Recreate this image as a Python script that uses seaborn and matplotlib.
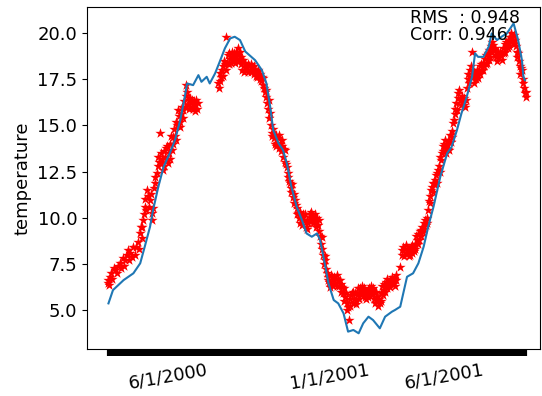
import numpy as np
import pandas as pd
import matplotlib
matplotlib.use("Agg")
import matplotlib.pyplot as plt
import seaborn as sns

# ---------------- data ----------------
start_date = "2000-03-13"

model_day = [1, 7, 21, 34, 43, 49, 56, 60, 67, 74, 82, 89, 96, 102, 105, 113, 120, 124,
             131, 135, 142, 149, 155, 162, 168, 175, 182, 195, 204, 210, 215, 219, 226,
             232, 237, 243, 250, 257, 263, 270, 277, 281, 288, 292, 299, 305, 312, 318,
             325, 332, 338, 345, 351, 360, 367, 376, 380, 387, 396, 404, 411, 418, 424,
             431, 440, 449, 455, 462, 468, 475, 482, 486, 490, 497, 504, 508, 515, 521,
             528, 537, 543, 548, 550, 552]
model_temp = [5.36, 6.08, 6.62, 6.99, 7.53, 8.43, 9.51, 10.41, 11.68, 12.76, 13.48, 14.2,
              15.29, 16.55, 17.27, 17.18, 17.72, 17.36, 17.63, 17.27, 17.81, 18.53, 19.17,
              19.71, 19.8, 19.62, 19.0, 18.53, 17.99, 17.27, 16.0, 14.74, 14.03, 13.66,
              12.94, 11.68, 10.59, 9.87, 9.15, 8.97, 9.15, 8.79, 7.34, 6.45, 5.54, 5.36,
              4.82, 3.83, 3.92, 3.74, 4.28, 4.64, 4.46, 4.01, 4.64, 4.91, 5.0, 5.18, 6.80,
              6.99, 7.53, 8.43, 9.51, 10.59, 12.22, 13.48, 13.84, 14.74, 15.65, 16.55,
              17.63, 18.9, 18.71, 18.71, 19.26, 19.98, 19.62, 19.8, 19.98, 20.52, 19.62,
              18.53, 17.63, 17.45]

# observations: main trace
obs_day = [0, 3, 10, 16, 23, 27, 32, 38, 43, 47, 49, 52, 56, 58, 63, 65, 67, 69, 71, 76,
           80, 85, 87, 91, 93, 96, 100, 104, 107, 111, 116, 119, 146, 149, 155, 157, 162,
           168, 175, 179, 182, 184, 191, 199, 206, 210, 215, 217, 224, 230, 235, 237, 241,
           248, 252, 259, 265, 272, 279, 283, 288, 292, 294, 299, 305, 310, 314, 318, 319,
           323, 329, 336, 343, 349, 356, 360, 365, 371, 374, 378, 382, 387, 389, 396, 404,
           409, 415, 422, 426, 429, 433, 437, 440, 446, 451, 455, 457, 462, 464, 468, 473,
           479, 482, 486, 490, 497, 504, 510, 517, 521, 528, 535, 539, 543, 548, 550, 552,
           554]
obs_temp = [6.45, 6.80, 7.17, 7.53, 7.71, 8.25, 7.89, 8.43, 9.15, 9.87, 10.59, 11.5, 10.96,
            10.24, 11.86, 12.4, 13.3, 14.57, 12.94, 13.3, 12.94, 13.66, 14.38, 14.2, 15.83,
            14.92, 15.83, 17.18, 16.37, 16.0, 16.1, 16.19, 17.27, 17.81, 18.35, 19.8, 18.62,
            18.71, 18.98, 18.53, 18.17, 17.99, 18.17, 17.99, 17.54, 16.55, 15.65, 14.57,
            14.03, 14.2, 13.66, 12.76, 11.86, 10.96, 10.24, 10.05, 9.69, 10.05, 9.87, 8.97,
            7.71, 6.80, 6.26, 6.62, 6.62, 6.26, 5.72, 5.18, 4.46, 5.9, 5.54, 6.08, 5.9,
            6.08, 5.72, 5.36, 6.08, 6.45, 6.26, 6.62, 6.62, 7.34, 8.25, 8.07, 8.25, 8.79,
            9.33, 9.69, 10.78, 11.68, 12.04, 12.58, 13.3, 14.2, 13.66, 14.38, 15.11, 15.83,
            16.73, 16.37, 16.0, 17.99, 18.98, 17.81, 17.54, 17.99, 18.53, 19.35, 18.9,
            18.53, 19.26, 19.8, 19.62, 18.9, 17.99, 17.27, 16.73, 16.55]

# observations: the rest of the star cloud (day, temperature)
obs_cloud = [
    (1, 6.6), (2, 6.35), (5, 7.0), (6, 6.7), (8, 7.3), (12, 7.0), (13, 7.4), (18, 7.3),
    (20, 7.8), (21, 7.4), (25, 8.0), (28, 7.7), (30, 8.1), (34, 8.4), (36, 8.0), (40, 8.7),
    (41, 8.3), (44, 9.5), (45, 8.9), (46, 9.5), (48, 10.2), (50, 11.0), (51, 10.4),
    (53, 11.2), (54, 10.6), (57, 11.3), (59, 9.9), (60, 10.5), (61, 11.6), (62, 12.2),
    (66, 12.8), (68, 13.0), (70, 13.5), (72, 13.2), (73, 12.6), (74, 13.6), (75, 12.8),
    (77, 13.8), (78, 13.1), (79, 13.9), (81, 13.5), (82, 14.0), (83, 13.2), (84, 14.4),
    (86, 14.0), (88, 14.8), (89, 14.4), (90, 15.2), (92, 15.0), (94, 15.5), (95, 15.2),
    (97, 15.6), (98, 16.0), (99, 15.4), (101, 16.3), (102, 16.0), (103, 16.6), (105, 16.8),
    (106, 16.1), (108, 15.9), (109, 16.5), (110, 16.2), (112, 16.4), (113, 15.9),
    (114, 16.3), (115, 15.8), (117, 16.4), (118, 15.9),
    (147, 17.0), (148, 17.4), (150, 17.6), (151, 18.0), (152, 17.7), (153, 18.2),
    (154, 18.5), (156, 18.0), (158, 18.4), (159, 18.8), (160, 18.3), (161, 18.9),
    (163, 18.4), (164, 18.7), (165, 19.0), (166, 18.5), (167, 18.9), (169, 18.4),
    (170, 19.0), (171, 18.6), (172, 19.2), (173, 18.8), (174, 18.5), (176, 18.7),
    (177, 18.3), (178, 18.0), (180, 17.9), (181, 18.4), (183, 18.0), (185, 18.3),
    (186, 17.9), (187, 18.2), (188, 18.0), (189, 18.3), (190, 17.9), (192, 18.0),
    (193, 18.2), (194, 17.8), (195, 18.0), (196, 17.7), (197, 17.9), (198, 17.6),
    (200, 17.7), (201, 17.5), (202, 17.8), (203, 17.4), (204, 17.6), (205, 17.2),
    (207, 17.0), (208, 16.8), (209, 16.9),
    (211, 16.2), (212, 15.9), (213, 16.4), (214, 15.4), (216, 15.0), (218, 14.4),
    (219, 14.8), (220, 14.3), (221, 14.0), (222, 14.5), (223, 13.9), (225, 14.3),
    (226, 13.8), (227, 14.5), (228, 14.0), (229, 13.6), (231, 13.9), (232, 13.3),
    (233, 13.7), (234, 13.0), (236, 12.9), (238, 12.4), (239, 12.2), (240, 12.0),
    (242, 11.6), (243, 11.4), (244, 11.8), (245, 11.1), (246, 11.3), (247, 10.8),
    (249, 10.7), (250, 10.5), (251, 10.2),
    (253, 10.0), (254, 10.3), (255, 9.7), (256, 10.1), (257, 9.6), (258, 10.2), (260, 9.8),
    (261, 10.2), (262, 9.5), (263, 9.9), (264, 9.4), (266, 9.9), (267, 10.2), (268, 9.8),
    (269, 10.3), (270, 10.0), (271, 9.7), (273, 9.9), (274, 10.2), (275, 9.8), (276, 9.5),
    (277, 10.0), (278, 9.6), (280, 9.3), (281, 9.0), (282, 8.6), (284, 8.3), (285, 8.0),
    (286, 7.5), (287, 7.9),
    (289, 7.2), (290, 7.0), (291, 6.6), (293, 6.5), (295, 6.9), (296, 6.4), (297, 6.8),
    (298, 6.3), (300, 6.8), (301, 6.4), (302, 6.7), (303, 6.3), (304, 6.9), (306, 6.3),
    (307, 6.6), (308, 6.0), (309, 6.4), (311, 5.9), (312, 6.2), (313, 5.5), (315, 5.9),
    (316, 5.4), (317, 5.0), (320, 5.6),
    (321, 5.2), (322, 5.8), (324, 5.4), (325, 6.0), (326, 5.6), (327, 5.9), (328, 5.3),
    (330, 5.8), (331, 6.2), (332, 5.6), (333, 5.9), (334, 6.2), (335, 5.8), (337, 6.3),
    (338, 5.9), (339, 6.2), (340, 5.7), (341, 6.0), (342, 5.6), (344, 6.1), (345, 5.7),
    (346, 6.2), (347, 5.9), (348, 6.3), (350, 5.8), (351, 6.2), (352, 5.6), (353, 5.9),
    (354, 5.4), (355, 6.0), (357, 5.5), (358, 5.2), (359, 5.6), (361, 5.5), (362, 5.9),
    (363, 6.3), (364, 5.8), (366, 6.4), (367, 6.0), (368, 6.5), (369, 6.2), (370, 6.7),
    (372, 6.3), (373, 6.6), (375, 6.5), (376, 6.8), (377, 6.4), (379, 6.7), (380, 6.3),
    (381, 6.9),
    (390, 8.0), (391, 8.4), (392, 7.9), (393, 8.3), (394, 8.1), (395, 8.5), (397, 8.2),
    (398, 7.9), (399, 8.3), (400, 8.0), (401, 8.4), (402, 8.1), (403, 8.5), (405, 8.2),
    (406, 8.6), (407, 8.3), (408, 9.0), (410, 8.6), (411, 9.1), (412, 8.8), (413, 9.3),
    (414, 9.0), (416, 9.5), (417, 9.2), (418, 9.7), (419, 9.4), (420, 9.9), (421, 9.6),
    (423, 10.0), (424, 10.4), (425, 10.9), (427, 11.2), (428, 11.5), (430, 11.9),
    (431, 11.4),
    (432, 11.8), (434, 12.3), (435, 11.9), (436, 12.4), (438, 12.8), (439, 12.5),
    (441, 13.1), (442, 13.5), (443, 13.9), (444, 13.6), (445, 14.0), (447, 13.9),
    (448, 13.5), (449, 14.0), (450, 13.7), (452, 14.2), (453, 14.5), (454, 14.1),
    (456, 14.7), (458, 15.3), (459, 15.6), (460, 15.9), (461, 16.2), (463, 16.5),
    (465, 16.9), (466, 16.4), (467, 16.1), (469, 16.6), (470, 16.2), (471, 16.5),
    (472, 16.1), (474, 16.4),
    (475, 17.0), (476, 17.5), (477, 17.8), (478, 17.3), (480, 17.6), (481, 18.2),
    (483, 17.6), (484, 17.3), (485, 17.9), (487, 17.5), (488, 18.0), (489, 17.7),
    (491, 17.9), (492, 18.2), (493, 17.8), (494, 18.3), (495, 18.0), (496, 18.4),
    (498, 18.2), (499, 18.6), (500, 18.3), (501, 18.8), (502, 18.4), (503, 18.9),
    (505, 19.1), (506, 18.7), (507, 19.3), (508, 19.0), (509, 19.5), (511, 19.1),
    (512, 18.8), (513, 19.2), (514, 18.7), (515, 18.5), (516, 19.0), (518, 18.7),
    (519, 19.0), (520, 18.8), (522, 18.9), (523, 19.2), (524, 18.9), (525, 19.4),
    (526, 19.0), (527, 19.5), (529, 19.2), (530, 19.6), (531, 19.3), (532, 19.8),
    (533, 19.5), (534, 20.0), (536, 19.6), (537, 19.9), (538, 19.4), (540, 19.3),
    (541, 19.0), (542, 18.7), (544, 18.5), (545, 18.2), (546, 17.8), (547, 18.1),
    (549, 17.5), (551, 17.0), (553, 16.8),
]

label_dates = ["2000-06-01", "2001-01-01", "2001-06-01"]
label_texts = ["6/1/2000", "1/1/2001", "6/1/2001"]
yticks = [5.0, 7.5, 10.0, 12.5, 15.0, 17.5, 20.0]
rms_value = 0.948
corr_value = 0.946

# ---------------- plot ----------------
t0 = pd.Timestamp(start_date)
all_obs_day = list(obs_day) + [d for d, _ in obs_cloud]
all_obs_temp = list(obs_temp) + [v for _, v in obs_cloud]
obs_df = pd.DataFrame({"date": t0 + pd.to_timedelta(all_obs_day, unit="D"),
                       "temp": all_obs_temp})
model_df = pd.DataFrame({"date": t0 + pd.to_timedelta(model_day, unit="D"),
                         "temp": model_temp})

fig = plt.figure(figsize=(5.42, 3.96), dpi=100)
ax = fig.add_axes([0.1605, 0.1187, 0.8358, 0.8636])

sns.scatterplot(data=obs_df, x="date", y="temp", marker="*", color="red", s=60,
                linewidth=0, ax=ax, zorder=2)
sns.lineplot(data=model_df, x="date", y="temp", color="#1f77b4", linewidth=1.5,
             ax=ax, zorder=3)

# one tick per day, only a few labelled
all_days = pd.date_range(t0, t0 + pd.Timedelta(days=max(all_obs_day)), freq="D")
lab_map = {pd.Timestamp(d): s for d, s in zip(label_dates, label_texts)}
ax.set_xticks(all_days)
ax.set_xticklabels([lab_map.get(d, "") for d in all_days], rotation=10, fontsize=13)
ax.tick_params(axis="x", length=5, width=1.5)

ax.set_yticks(yticks)
ax.set_yticklabels([f"{v:.1f}" for v in yticks], fontsize=13)
ax.set_ylim(2.89, 21.41)
ax.set_xlim(t0 - pd.Timedelta(days=27.4), t0 + pd.Timedelta(days=571.9))
ax.set_ylabel("temperature", fontsize=13)
ax.set_xlabel("")

ax.text(0.713, 0.993, f"RMS  : {rms_value:.3f}\nCorr: {corr_value:.3f}",
        transform=ax.transAxes, va="top", ha="left", fontsize=12.5,
        linespacing=0.87, zorder=4)

fig.savefig("out.png", dpi=100)
